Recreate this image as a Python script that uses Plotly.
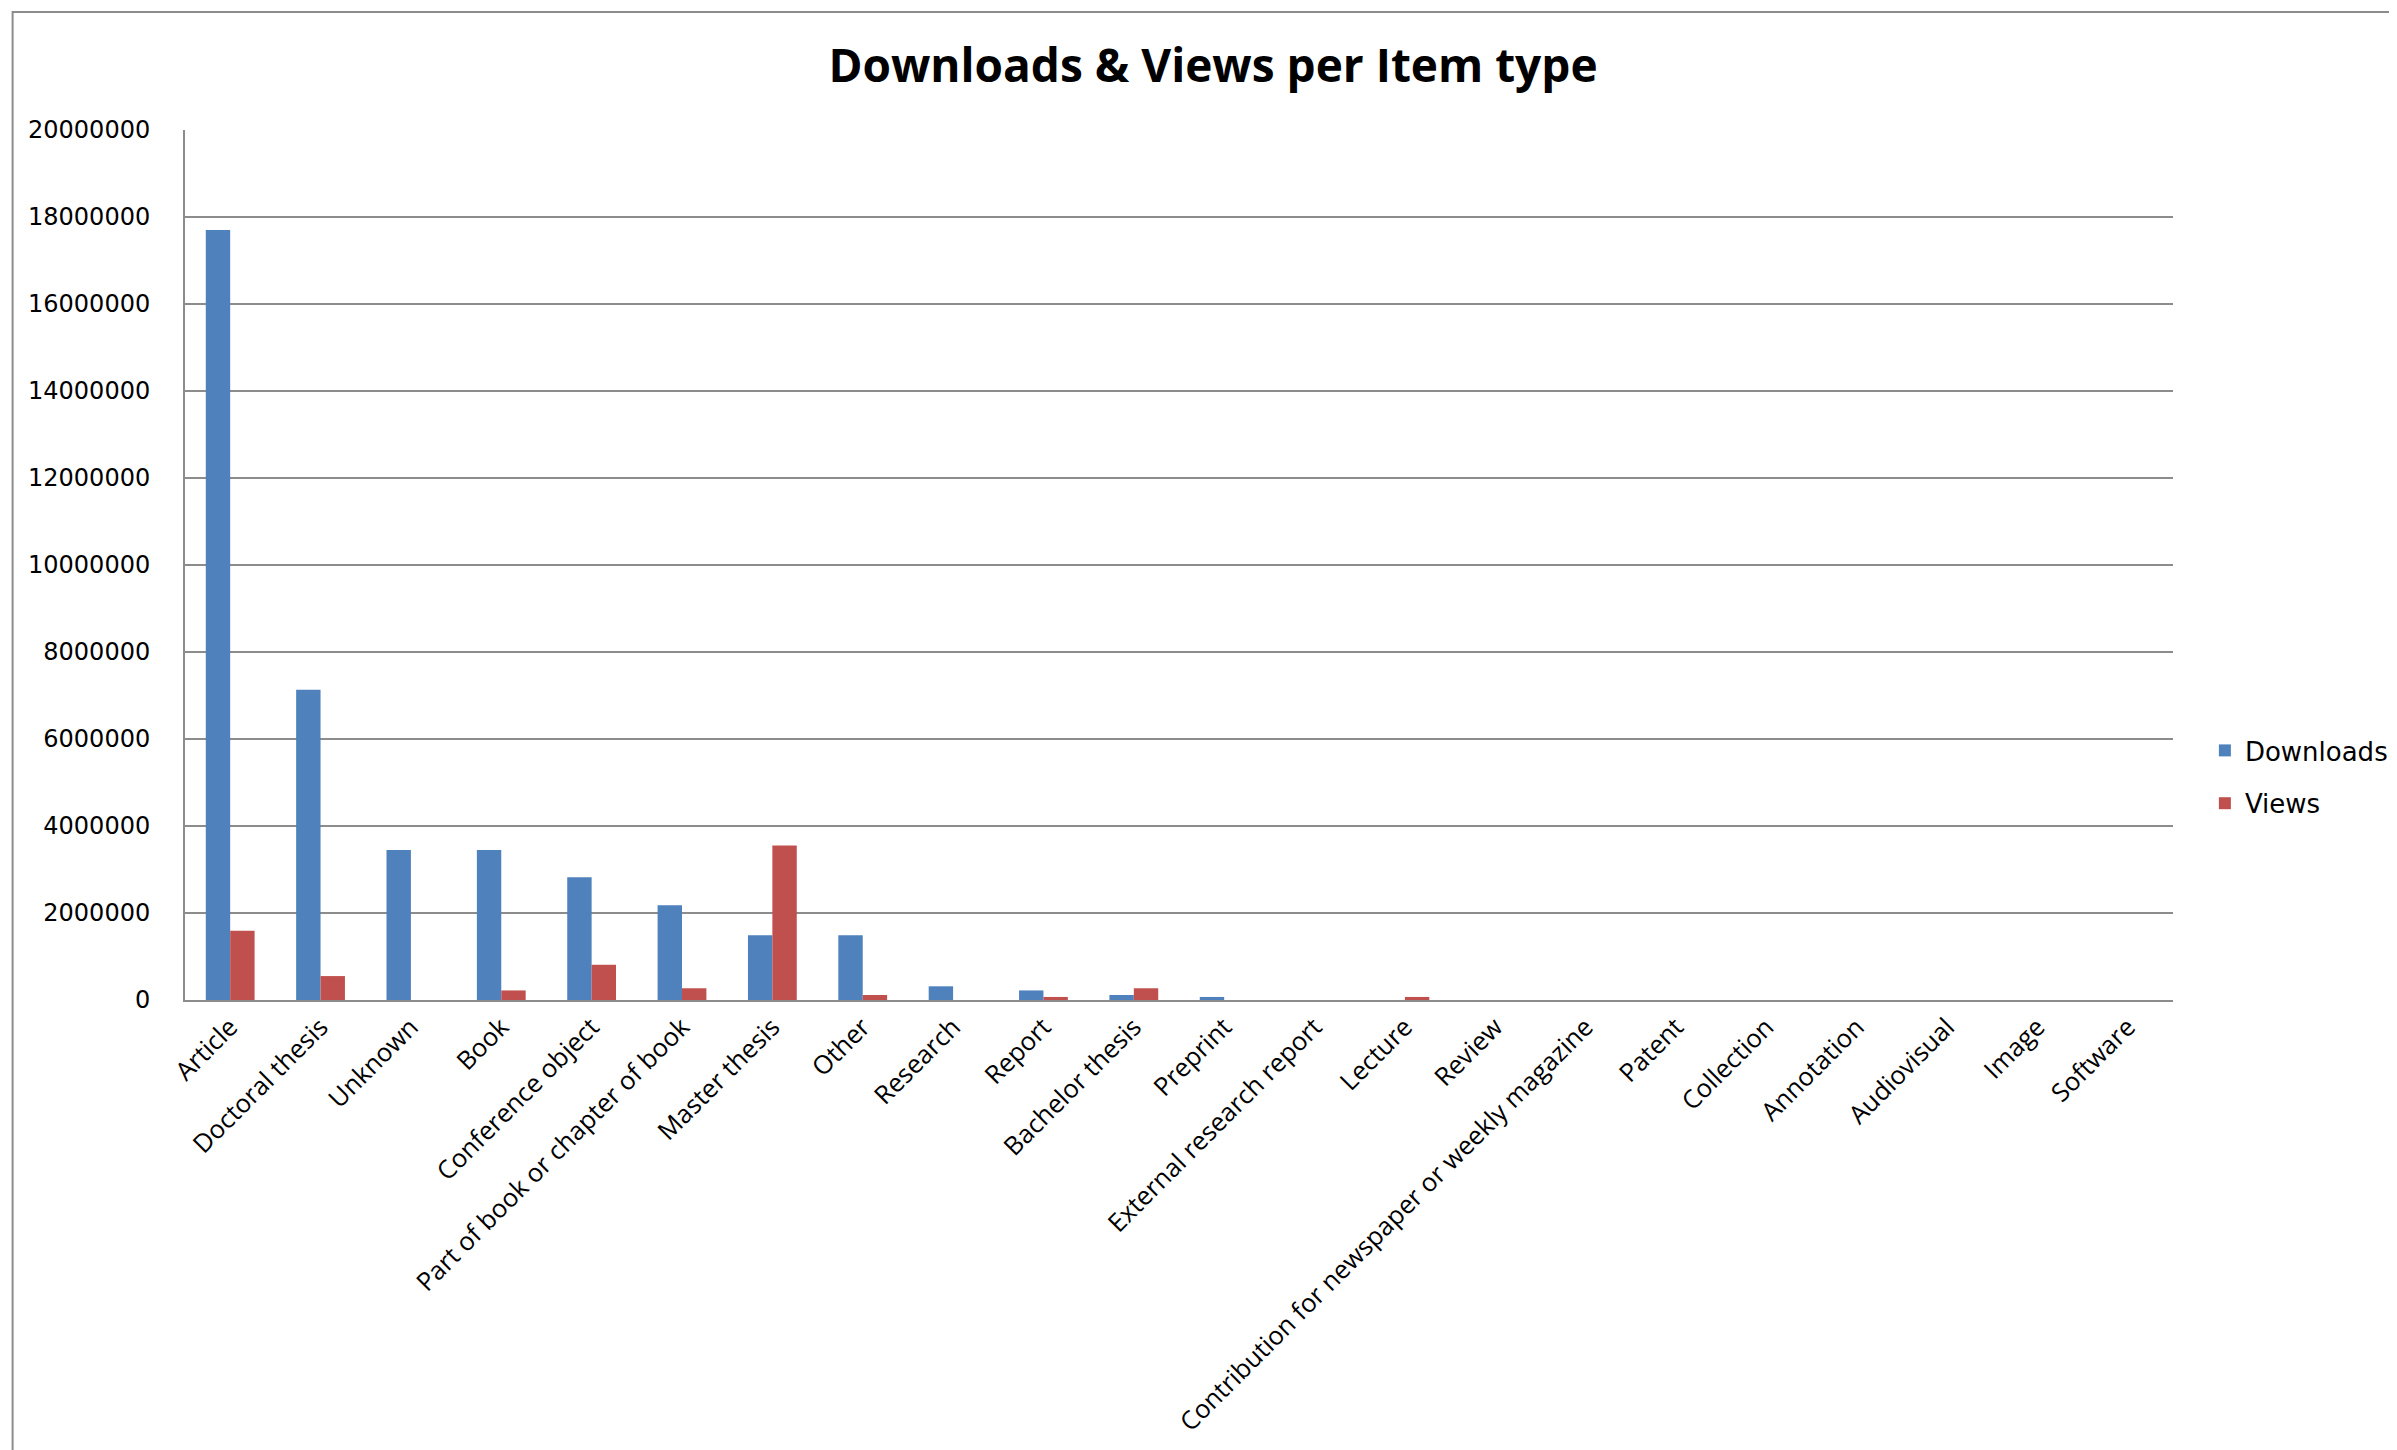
import plotly.graph_objects as go

categories = ["Article", "Doctoral thesis", "Unknown", "Book", "Conference object",
              "Part of book or chapter of book", "Master thesis", "Other", "Research",
              "Report", "Bachelor thesis", "Preprint", "External research report",
              "Lecture", "Review", "Contribution for newspaper or weekly magazine",
              "Patent", "Collection", "Annotation", "Audiovisual", "Image", "Software"]
downloads = [17700000, 7130000, 3450000, 3450000, 2820000, 2180000, 1490000, 1490000,
             315000, 220000, 115000, 70000, 0, 0, 0, 0, 0, 0, 0, 0, 0, 0]
views = [1590000, 550000, 0, 220000, 810000, 270000, 3550000, 115000, 0, 70000,
         270000, 0, 0, 70000, 0, 0, 0, 0, 0, 0, 0, 0]
y_ticks = [0, 2000000, 4000000, 6000000, 8000000, 10000000, 12000000, 14000000,
           16000000, 18000000, 20000000]

W, H = 2397, 1450
L, R, T, B = 177, 225, 122, 458
pw, ph = W - L - R, H - T - B

fig = go.Figure()
fig.add_trace(go.Bar(name="Downloads", x=categories, y=downloads, marker_color="#4F81BD",
                     marker_line_width=0, legendgroup="d"))
fig.add_trace(go.Bar(name="Views", x=categories, y=views, marker_color="#C0504D",
                     marker_line_width=0, legendgroup="v"))

def px_x(p):
    return (p - L) / pw

def px_y(p):
    return (H - B - p) / ph

fig.update_layout(
    width=W, height=H,
    margin=dict(l=L, r=R, t=T, b=B),
    paper_bgcolor="white", plot_bgcolor="white",
    barmode="group", bargap=0.46, bargroupgap=0,
    title=dict(text="<b>Downloads & Views per Item type</b>", x=1205 / W, xanchor="center",
               y=1 - 58 / H, yanchor="middle", yref="container",
               font=dict(family="Open Sans", size=46, color="black")),
    legend=dict(x=px_x(2204), xanchor="left", y=px_y(769), yanchor="middle",
                font=dict(family="DejaVu Sans", size=26, color="black"),
                tracegroupgap=16, bgcolor="rgba(0,0,0,0)", itemwidth=30),
    xaxis=dict(tickangle=-45, tickfont=dict(family="Open Sans", size=25.5, color="black"),
               showline=True, linecolor="#8c8c8c", linewidth=2, showgrid=False,
               ticks="", automargin=False),
    yaxis=dict(range=[0, 20000000], tickvals=y_ticks, ticktext=[str(v) for v in y_ticks],
               tickfont=dict(family="DejaVu Sans", size=24, color="black"),
               showgrid=True, gridcolor="#8c8c8c", gridwidth=2,
               showline=True, linecolor="#8c8c8c", linewidth=2, zeroline=False,
               ticks="", ticklabelstandoff=28, automargin=False),
    showlegend=True,
)

fig.add_shape(type="rect", xref="paper", yref="paper",
              x0=px_x(4), x1=px_x(W + 20), y0=px_y(H + 20), y1=px_y(4),
              line=dict(color="#8c8c8c", width=2), fillcolor="rgba(0,0,0,0)", layer="below")

fig.write_html("out.html")
